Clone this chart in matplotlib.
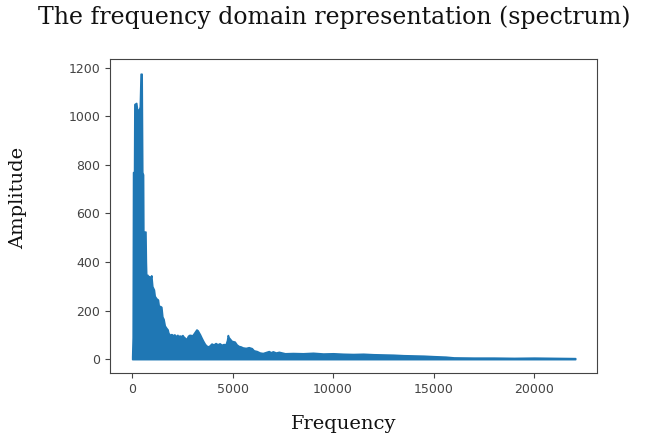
import matplotlib
matplotlib.use("Agg")

import matplotlib.pyplot as plt

# frequency (Hz) and the upper edge of the amplitude spectrum
freq = [0, 25, 45, 95, 110, 200, 240, 330, 380, 420, 470, 500, 540, 560, 600,
        620, 660, 680, 700, 760, 800, 850, 900, 950, 1000, 1080, 1120, 1200,
        1280, 1320, 1400, 1450, 1500, 1560, 1620, 1700, 1760, 1800, 1870,
        1950, 2050, 2100, 2150, 2250, 2300, 2350, 2450, 2500, 2550, 2700,
        2780, 2850, 3000, 3100, 3200, 3260, 3300, 3370, 3450, 3530, 3620,
        3700, 3800, 3900, 3950, 4050, 4150, 4250, 4350, 4450, 4550, 4650,
        4720, 4760, 4800, 4950, 5100, 5200, 5300, 5400, 5500, 5650, 5800,
        5950, 6050, 6200, 6350, 6500, 6650, 6800, 6900, 7000, 7150, 7300,
        7600, 8000, 8500, 9000, 9500, 10000, 10500, 11000, 11500, 12000,
        12500, 13000, 13500, 14000, 14500, 15000, 15600, 16000, 17000, 18000,
        19000, 20000, 21000, 22050]
amplitude = [10, 90, 770, 770, 1050, 1055, 1030, 1025, 1040, 1175, 1175, 770,
             760, 420, 400, 525, 525, 400, 340, 347, 335, 342, 330, 345, 300,
             286, 260, 250, 245, 220, 218, 215, 175, 165, 138, 128, 122, 108,
             100, 103, 98, 102, 94, 100, 92, 97, 95, 99, 93, 82, 96, 100, 98,
             110, 122, 118, 112, 102, 88, 75, 62, 55, 52, 60, 64, 60, 66, 61,
             65, 59, 62, 60, 78, 99, 90, 75, 72, 60, 54, 52, 48, 46, 49, 45,
             36, 33, 27, 25, 29, 33, 28, 32, 27, 30, 24, 25, 24, 26, 23, 24,
             22, 21, 22, 20, 19, 18, 16, 15, 14, 12, 10, 7, 6, 6, 5, 6, 5, 4]

fig = plt.figure(figsize=(6.55, 4.44), dpi=100)
ax = fig.add_axes([0.168, 0.159, 0.744, 0.707])

# Spektrum als gefuellte Flaeche mit Kante
ax.fill_between(freq, amplitude, color="#1f77b4", edgecolor="#1f77b4",
                linewidth=1.2)
ax.margins(x=0.05, y=0.05)

ax.set_yticks([0, 200, 400, 600, 800, 1000, 1200])
ax.set_xticks([0, 5000, 10000, 15000, 20000])
ax.tick_params(labelsize=9, colors="#444444", length=3.5, width=0.8)
for s in ax.spines.values():
    s.set_color("#444444")
    s.set_linewidth(0.8)

fig.text(0.51, 0.962, "The frequency domain representation (spectrum)",
         ha="center", va="center", fontsize=17, family="DejaVu Serif",
         color="#111111")
fig.text(0.524, 0.045, "Frequency", ha="center", va="center", fontsize=14,
         family="DejaVu Serif", color="#111111")
fig.text(0.027, 0.554, "Amplitude", ha="center", va="center", fontsize=14,
         family="DejaVu Serif", rotation=90, color="#111111")

fig.savefig("out.png", dpi=100)
